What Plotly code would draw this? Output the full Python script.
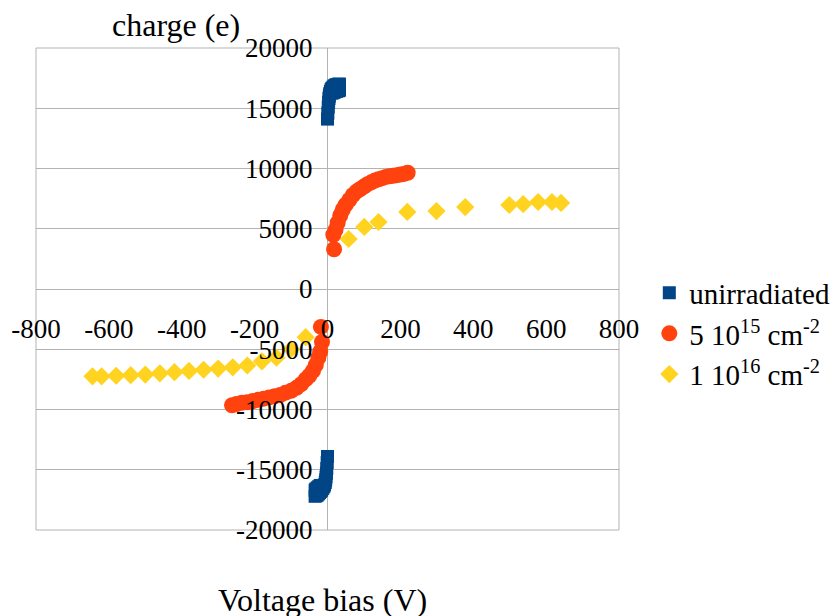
import plotly.graph_objects as go

# Collected charge versus bias voltage for three fluences
v_unirr = [0, 1, 2, 3, 4, 5, 6, 8, 10, 12, 15, 18, 21, 24, 27, 30, 33,
           12, 16, 20, 25, 30, 33,
           0, -1, -2, -3, -4, -5, -6, -8, -10, -13, -16, -19, -22, -25, -28, -31, -34,
           -20, -24, -28, -32, -34]
q_unirr = [14100, 14600, 15100, 15500, 15800, 16000, 16200, 16400, 16550, 16650, 16750,
           16850, 16900, 16950, 16950, 17000, 17000,
           16250, 16300, 16350, 16400, 16450, 16500,
           -13900, -14400, -14900, -15300, -15600, -15850, -16050, -16250, -16400, -16550,
           -16700, -16800, -16900, -17000, -17100, -17150, -17200,
           -16300, -16400, -16500, -16600, -16700]

v_5e15 = [18, 16, 22, 28, 35, 42, 50, 60, 70, 80, 90, 100, 110, 120, 130, 140, 150,
          160, 170, 180, 190, 200, 210, 220,
          -18, -15, -20, -25, -32, -40, -50, -60, -72, -85, -100, -115, -130, -145, -160,
          -175, -190, -205, -220, -235, -250, -262]
q_5e15 = [3300, 4500, 4900, 5500, 6100, 6600, 7000, 7400, 7800, 8100, 8300, 8500, 8700,
          8850, 9000, 9100, 9200, 9300, 9350, 9400, 9450, 9500, 9550, 9650,
          -3150, -4400, -5200, -5700, -6300, -6800, -7200, -7500, -7900, -8200, -8450, -8600,
          -8800, -8900, -9000, -9100, -9200, -9300, -9400, -9450, -9550, -9650]

v_1e16 = [58, 101, 140, 219, 299, 378, 499, 537, 578, 616, 641,
          -645, -620, -580, -540, -500, -460, -420, -380, -340, -300, -260, -220, -180,
          -140, -100, -60]
q_1e16 = [4150, 5150, 5560, 6400, 6470, 6800, 6970, 7050, 7220, 7220, 7140,
          -7250, -7250, -7200, -7150, -7100, -7000, -6900, -6800, -6700, -6600, -6500,
          -6350, -6000, -5700, -5000, -4000]

x_ticks = [-800, -600, -400, -200, 0, 200, 400, 600, 800]
x_labels = ["-800", "-600", "-400", "-200", "0", "200", "400", "600", "800"]
y_ticks = [-20000, -15000, -10000, -5000, 0, 5000, 10000, 15000, 20000]
y_labels = ["-20000", "-15000", "-10000", "-5000", "0", "5000", "10000", "15000", "20000"]

FONT = "Liberation Serif"
GRID = "#b3b3b3"

fig = go.Figure()
fig.add_trace(go.Scatter(
    x=v_unirr, y=q_unirr, mode="markers", name="unirradiated", legendrank=1,
    marker=dict(symbol="square", size=13, color="#004586"),
))
fig.add_trace(go.Scatter(
    x=v_1e16, y=q_1e16, mode="markers", name="1 10<sup>16</sup> cm<sup>-2</sup>", legendrank=3,
    marker=dict(symbol="diamond", size=14, color="#ffd320"),
))
fig.add_trace(go.Scatter(
    x=v_5e15, y=q_5e15, mode="markers", name="5 10<sup>15</sup> cm<sup>-2</sup>", legendrank=2,
    marker=dict(symbol="circle", size=16, color="#ff420e"),
))

fig.update_layout(
    width=840, height=616,
    margin=dict(l=36, r=221, t=48, b=86, autoexpand=False),
    paper_bgcolor="white", plot_bgcolor="white",
    font=dict(family=FONT, size=27, color="black"),
    xaxis=dict(
        range=[-800, 800], tickvals=x_ticks, ticktext=x_labels,
        anchor="free", position=0.5, showgrid=False,
        zeroline=True, zerolinecolor=GRID, zerolinewidth=1,
        showline=False, ticks="", ticklabelstandoff=21,
        tickfont=dict(family=FONT, size=27), automargin=False,
    ),
    yaxis=dict(
        range=[-20000, 20000], tickvals=y_ticks, ticktext=y_labels,
        anchor="free", position=0.5, showgrid=True, gridcolor=GRID, gridwidth=1,
        zeroline=True, zerolinecolor=GRID, zerolinewidth=1,
        showline=False, ticks="", ticklabelstandoff=15,
        tickfont=dict(family=FONT, size=27), automargin=False,
    ),
    legend=dict(
        x=1.052, y=0.545, xanchor="left", yanchor="top",
        font=dict(family=FONT, size=29), bgcolor="rgba(0,0,0,0)",
        tracegroupgap=0, itemsizing="trace",
    ),
    shapes=[dict(type="rect", xref="paper", yref="paper", x0=0, x1=1, y0=0, y1=1,
                 line=dict(color=GRID, width=1), layer="below")],
    annotations=[
        dict(text="charge (e)", xref="paper", yref="paper", x=0.24, y=1.0,
             xanchor="center", yanchor="bottom", yshift=3, showarrow=False,
             font=dict(family=FONT, size=32)),
        dict(text="Voltage bias (V)", xref="paper", yref="paper", x=0.492, y=0.0,
             xanchor="center", yanchor="top", yshift=-50, showarrow=False,
             font=dict(family=FONT, size=32)),
    ],
)

fig.write_html("out.html")
